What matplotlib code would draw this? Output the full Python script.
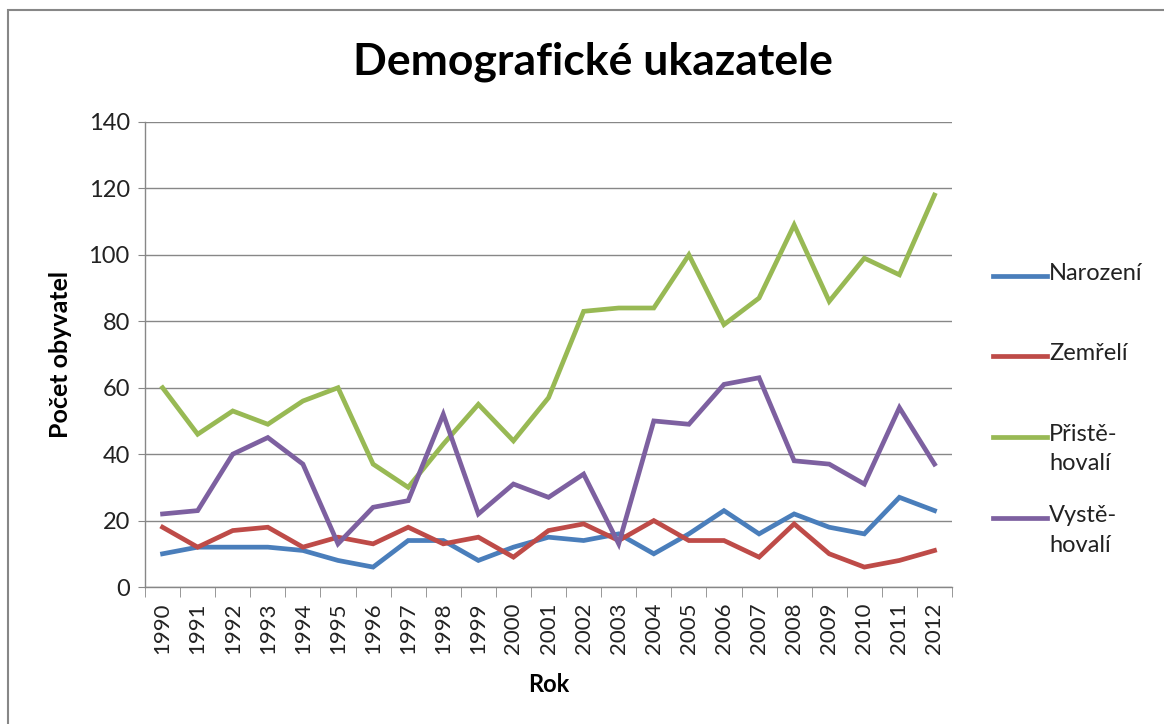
import matplotlib.pyplot as plt
from matplotlib.lines import Line2D
from matplotlib.patches import Rectangle

plt.rcParams['font.family'] = ['Lato', 'DejaVu Sans']

ROKY = [str(r) for r in range(1990, 2013)]
NAROZENI = [10, 12, 12, 12, 11, 8, 6, 14, 14, 8, 12, 15, 14, 16, 10, 16, 23, 16, 22, 18, 16, 27, 23]
ZEMRELI = [18, 12, 17, 18, 12, 15, 13, 18, 13, 15, 9, 17, 19, 14, 20, 14, 14, 9, 19, 10, 6, 8, 11]
PRISTEHOVALI = [60, 46, 53, 49, 56, 60, 37, 30, 43, 55, 44, 57, 83, 84, 84, 100, 79, 87, 109, 86, 99, 94, 118]
VYSTEHOVALI = [22, 23, 40, 45, 37, 13, 24, 26, 52, 22, 31, 27, 34, 13, 50, 49, 61, 63, 38, 37, 31, 54, 37]

NAZVY = ["Narození", "Zemřelí", "Přistě-\nhovalí", "Vystě-\nhovalí"]
BARVY = ["#4A7EBB", "#BE4B48", "#98B954", "#7D60A0"]

fig = plt.figure(figsize=(11.64, 7.24), dpi=100)
ax = fig.add_axes([0.1246, 0.1892, 0.6933, 0.6423])

x = range(len(ROKY))
for hodnoty, barva in zip([NAROZENI, ZEMRELI, PRISTEHOVALI, VYSTEHOVALI], BARVY):
    ax.plot(x, hodnoty, color=barva, lw=3.4, solid_joinstyle='miter')

seda = "#878787"
ax.set_xlim(-0.5, len(ROKY) - 0.5)
ax.set_ylim(0, 140)
ax.set_yticks(range(0, 141, 20))
ax.yaxis.grid(True, color=seda, lw=1)
ax.set_axisbelow(True)
for s in ["top", "right"]:
    ax.spines[s].set_visible(False)
for s in ["left", "bottom"]:
    ax.spines[s].set_color(seda)
    ax.spines[s].set_linewidth(1)

ax.set_xticks(list(x))
ax.set_xticklabels(ROKY, rotation=90, fontsize=16)
ax.set_xticks([i - 0.5 for i in range(len(ROKY) + 1)], minor=True)
ax.tick_params(axis='x', which='major', length=0, pad=11)
ax.tick_params(axis='x', which='minor', length=7, color=seda, direction='out')
ax.tick_params(axis='y', length=5, color=seda, labelsize=17, pad=6, labelcolor='#222222')
ax.tick_params(axis='x', labelcolor='#222222')

ax.set_xlabel("Rok", fontsize=17, fontweight='bold', labelpad=14)
ax.set_ylabel("Počet obyvatel", fontsize=18, fontweight='bold', labelpad=12)
fig.text(0.509, 0.915, "Demografické ukazatele", fontsize=32, fontweight='bold',
         ha='center', va='center')

# legenda
ly = [276, 356, 437, 518]
for nazev, barva, y in zip(NAZVY, BARVY, ly):
    yf = 1 - y / 724
    fig.add_artist(Line2D([993 / 1164, 1047 / 1164], [yf, yf], color=barva, lw=3.4,
                          transform=fig.transFigure))
    fig.text(1049 / 1164, yf + 13 / 724, nazev, fontsize=17, ha='left', va='top',
             linespacing=1.5, color='#222222')

fig.add_artist(Rectangle((8 / 1164, -0.1), 1.2, 1 - 10 / 724 + 0.1, fill=False,
                         edgecolor=seda, lw=1.5, transform=fig.transFigure))

fig.savefig("out.png", dpi=100)
